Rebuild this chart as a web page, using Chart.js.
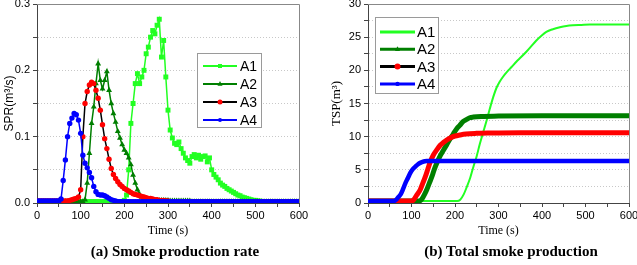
<!DOCTYPE html>
<html>
<head>
<meta charset="utf-8">
<script src="https://cdn.jsdelivr.net/npm/chart.js@4.4.1/dist/chart.umd.min.js"></script>
<style>
  body { margin: 0; width: 637px; height: 265px; overflow: hidden; background: #fff; position: relative; }
  canvas { position: absolute; top: -6px; }
  #spr { left: 0; }
  #tsp { left: 318px; }
  .cap { position: absolute; top: 243px; font: bold 15px "Liberation Serif", "Times New Roman", serif; white-space: nowrap; transform: translateX(-50%); }
</style>
</head>
<body>
<canvas id="spr" width="318" height="250"></canvas>
<canvas id="tsp" width="330" height="250"></canvas>
<div class="cap" style="left:175px">(a) Smoke production rate</div>
<div class="cap" style="left:511px">(b) Total smoke production</div>
<script>
// (a) smoke production rate, m3/s, sampled every 5 s
const sprTime = [
  0, 5, 10, 15, 20, 25, 30, 35, 40, 45,
  50, 55, 60, 65, 70, 75, 80, 85, 90, 95,
  100, 105, 110, 115, 120, 125, 130, 135, 140, 145,
  150, 155, 160, 165, 170, 175, 180, 185, 190, 195,
  200, 205, 210, 215, 220, 225, 230, 235, 240, 245,
  250, 255, 260, 265, 270, 275, 280, 285, 290, 295,
  300, 305, 310, 315, 320, 325, 330, 335, 340, 345,
  350, 355, 360, 365, 370, 375, 380, 385, 390, 395,
  400, 405, 410, 415, 420, 425, 430, 435, 440, 445,
  450, 455, 460, 465, 470, 475, 480, 485, 490, 495,
  500, 505, 510, 515, 520, 525, 530, 535, 540, 545,
  550, 555, 560, 565, 570, 575, 580, 585, 590, 595,
  600
];
const sprA1 = [
  0.002, 0.002, 0.002, 0.002, 0.002, 0.002, 0.002, 0.002, 0.002, 0.002,
  0.002, 0.002, 0.002, 0.002, 0.002, 0.002, 0.002, 0.002, 0.002, 0.002,
  0.002, 0.002, 0.002, 0.002, 0.002, 0.002, 0.002, 0.002, 0.002, 0.002,
  0.002, 0.002, 0.002, 0.002, 0.002, 0.002, 0.002, 0.002, 0.002, 0.002,
  0.004, 0.012, 0.05, 0.12, 0.15, 0.18, 0.195, 0.18, 0.19, 0.2,
  0.225, 0.235, 0.25, 0.26, 0.255, 0.268, 0.277, 0.22, 0.245, 0.19,
  0.14, 0.11, 0.098, 0.09, 0.088, 0.092, 0.082, 0.075, 0.068, 0.064,
  0.06, 0.07, 0.073, 0.068, 0.072, 0.066, 0.07, 0.071, 0.062, 0.068,
  0.05, 0.043, 0.039, 0.035, 0.03, 0.027, 0.025, 0.022, 0.02, 0.018,
  0.016, 0.014, 0.012, 0.011, 0.009, 0.008, 0.007, 0.006, 0.005, 0.004,
  0.004, 0.003, 0.003, 0.002, 0.002, 0.002, 0.002, 0.002, 0.002, 0.002,
  0.002, 0.002, 0.002, 0.002, 0.002, 0.002, 0.002, 0.002, 0.002, 0.002,
  0.002
];
const sprA2 = [
  0.002, 0.002, 0.002, 0.002, 0.002, 0.002, 0.002, 0.002, 0.002, 0.002,
  0.002, 0.002, 0.002, 0.002, 0.002, 0.002, 0.002, 0.002, 0.002, 0.002,
  0.002, 0.002, 0.005, 0.03, 0.075, 0.12, 0.145, 0.18, 0.21, 0.185,
  0.172, 0.185, 0.198, 0.17, 0.15, 0.135, 0.122, 0.108, 0.098, 0.088,
  0.08, 0.075, 0.068, 0.058, 0.042, 0.03, 0.02, 0.013, 0.009, 0.007,
  0.006, 0.005, 0.005, 0.004, 0.004, 0.004, 0.004, 0.004, 0.004, 0.004,
  0.004, 0.003, 0.003, 0.003, 0.003, 0.003, 0.003, 0.003, 0.003, 0.003,
  0.003, 0.002, 0.002, 0.002, 0.002, 0.002, 0.002, 0.002, 0.002, 0.002,
  0.002, 0.002, 0.002, 0.002, 0.002, 0.002, 0.002, 0.002, 0.002, 0.002,
  0.002, 0.002, 0.002, 0.002, 0.002, 0.002, 0.002, 0.002, 0.002, 0.002,
  0.002, 0.002, 0.002, 0.002, 0.002, 0.002, 0.002, 0.002, 0.002, 0.002,
  0.002, 0.002, 0.002, 0.002, 0.002, 0.002, 0.002, 0.002, 0.002, 0.002,
  0.002
];
const sprA3 = [
  0.003, 0.003, 0.003, 0.003, 0.003, 0.003, 0.003, 0.003, 0.003, 0.003,
  0.003, 0.003, 0.003, 0.003, 0.003, 0.004, 0.005, 0.006, 0.007, 0.009,
  0.02, 0.1, 0.15, 0.168, 0.178, 0.182, 0.18, 0.17, 0.158, 0.14,
  0.118, 0.097, 0.082, 0.066, 0.052, 0.043, 0.037, 0.032, 0.028, 0.025,
  0.022, 0.02, 0.018, 0.016, 0.014, 0.013, 0.012, 0.011, 0.01, 0.009,
  0.008, 0.007, 0.007, 0.006, 0.005, 0.005, 0.004, 0.004, 0.004, 0.003,
  0.003, 0.002, 0.002, 0.002, 0.002, 0.002, 0.002, 0.002, 0.002, 0.002,
  0.002, 0.002, 0.002, 0.002, 0.002, 0.002, 0.002, 0.002, 0.002, 0.002,
  0.002, 0.002, 0.002, 0.002, 0.002, 0.002, 0.002, 0.002, 0.002, 0.002,
  0.002, 0.002, 0.002, 0.002, 0.002, 0.002, 0.002, 0.002, 0.002, 0.002,
  0.002, 0.002, 0.002, 0.002, 0.002, 0.002, 0.002, 0.002, 0.002, 0.002,
  0.002, 0.002, 0.002, 0.002, 0.002, 0.002, 0.002, 0.002, 0.002, 0.002,
  0.002
];
const sprA4 = [
  0.003, 0.003, 0.003, 0.003, 0.003, 0.003, 0.003, 0.003, 0.003, 0.003,
  0.003, 0.006, 0.034, 0.065, 0.1, 0.12, 0.128, 0.135, 0.133, 0.125,
  0.105, 0.072, 0.06, 0.053, 0.046, 0.038, 0.025, 0.017, 0.013, 0.012,
  0.012, 0.011, 0.009, 0.007, 0.005, 0.004, 0.003, 0.002, 0.002, 0.002,
  0.002, 0.002, 0.002, 0.002, 0.002, 0.002, 0.002, 0.002, 0.002, 0.002,
  0.002, 0.002, 0.002, 0.002, 0.002, 0.002, 0.002, 0.002, 0.002, 0.002,
  0.002, 0.002, 0.002, 0.002, 0.002, 0.002, 0.002, 0.002, 0.002, 0.002,
  0.002, 0.002, 0.002, 0.002, 0.002, 0.002, 0.002, 0.002, 0.002, 0.002,
  0.002, 0.002, 0.002, 0.002, 0.002, 0.002, 0.002, 0.002, 0.002, 0.002,
  0.002, 0.002, 0.002, 0.002, 0.002, 0.002, 0.002, 0.002, 0.002, 0.002,
  0.002, 0.002, 0.002, 0.002, 0.002, 0.002, 0.002, 0.002, 0.002, 0.002,
  0.002, 0.002, 0.002, 0.002, 0.002, 0.002, 0.002, 0.002, 0.002, 0.002,
  0.002
];

// (b) total smoke production, m3
const tspA1Time = [0, 205, 212, 220, 227, 235, 242, 250, 257, 265, 273, 280, 288, 295, 302, 310, 320, 330, 341, 352, 364, 375, 387, 400, 410, 425, 441, 456, 471, 490, 510, 540, 600];
const tspA1 = [0.3, 0.3, 0.5, 1.3, 2.4, 3.8, 5.4, 7.1, 8.9, 10.7, 12.5, 14.2, 16, 17.3, 18.2, 19, 19.8, 20.5, 21.3, 22, 22.8, 23.6, 24.5, 25.3, 25.8, 26.2, 26.5, 26.7, 26.8, 26.85, 26.9, 26.9, 26.9];
const tspA2Time = [0, 118, 124, 130, 135, 141, 147, 152, 158, 165, 173, 181, 189, 196, 204, 211, 219, 227, 234, 242, 260, 300, 400, 600];
const tspA2 = [0.3, 0.3, 0.6, 1.3, 2, 3, 4, 5, 6, 7, 7.9, 8.8, 9.7, 10.4, 11.2, 11.7, 12.3, 12.6, 12.85, 12.95, 13.05, 13.1, 13.15, 13.15];
const tspA3Time = [0, 100, 105, 112, 120, 126, 132, 138, 143, 150, 158, 166, 174, 181, 190, 200, 211, 225, 249, 280, 350, 600];
const tspA3 = [0.3, 0.3, 0.5, 1.2, 2, 3, 4, 5.2, 6.2, 7.2, 8, 8.7, 9.15, 9.5, 9.85, 10.1, 10.25, 10.4, 10.5, 10.55, 10.6, 10.6];
const tspA4Time = [0, 60, 65, 70, 75, 80, 86, 92, 97, 103, 109, 115, 120, 128, 135, 150, 600];
const tspA4 = [0.3, 0.3, 0.5, 0.9, 1.3, 2, 3, 3.8, 4.5, 5.1, 5.5, 5.85, 6.05, 6.25, 6.32, 6.35, 6.35];

const seriesNames = ['A1', 'A2', 'A3', 'A4'];

const sansFont = "'Liberation Sans', Arial, sans-serif";
const serifFont = "'Liberation Serif', 'Times New Roman', serif";
const lime = '#22ff22';
const dkgreen = '#007f00';

const pts = (t, v) => t.map((x, i) => ({ x: x, y: v[i] }));

function marker(ctx, style, x, y, r) {
  ctx.beginPath();
  if (style === 'rect') {
    ctx.rect(x - r, y - r, 2 * r, 2 * r);
  } else if (style === 'triangle') {
    ctx.moveTo(x, y - r * 1.2);
    ctx.lineTo(x + r, y + r * 0.7);
    ctx.lineTo(x - r, y + r * 0.7);
    ctx.closePath();
  } else {
    ctx.arc(x, y, r, 0, Math.PI * 2);
  }
  ctx.fill();
}

// grey top/right frame around the plot
const frame = {
  id: 'frame',
  afterDatasetsDraw(chart) {
    const { ctx, chartArea: a } = chart;
    ctx.save();
    ctx.strokeStyle = '#888';
    ctx.lineWidth = 1;
    ctx.beginPath();
    ctx.moveTo(a.left, Math.round(a.top) + 0.5);
    ctx.lineTo(Math.round(a.right) + 0.5, Math.round(a.top) + 0.5);
    ctx.lineTo(Math.round(a.right) + 0.5, a.bottom);
    ctx.stroke();
    ctx.restore();
  }
};

// boxed legend inside the plot, like the original figure
function boxLegend(cfg) {
  return {
    id: 'boxLegend',
    afterDraw(chart) {
      const ctx = chart.ctx;
      ctx.save();
      ctx.fillStyle = '#fff';
      ctx.fillRect(cfg.x, cfg.y, cfg.w, cfg.h);
      ctx.strokeStyle = '#9a9a9a';
      ctx.lineWidth = 1;
      ctx.strokeRect(cfg.x + 0.5, cfg.y + 0.5, cfg.w, cfg.h);
      cfg.items.forEach((it, i) => {
        const y = cfg.y + cfg.first + i * cfg.step;
        ctx.strokeStyle = it.line;
        ctx.lineWidth = it.lw;
        ctx.beginPath();
        ctx.moveTo(cfg.x + cfg.lx0, y);
        ctx.lineTo(cfg.x + cfg.lx1, y);
        ctx.stroke();
        if (it.style) {
          ctx.fillStyle = it.point;
          marker(ctx, it.style, cfg.x + (cfg.lx0 + cfg.lx1) / 2, y, it.r);
        }
        ctx.fillStyle = '#000';
        ctx.font = cfg.font;
        ctx.textBaseline = 'middle';
        ctx.fillText(seriesNames[i], cfg.x + cfg.tx, y + 1);
      });
      ctx.restore();
    }
  };
}

function xAxis() {
  return {
    type: 'linear', min: 0, max: 600,
    afterFit: s => { s.height = 41; },
    ticks: {
      stepSize: 50, autoSkip: false, maxRotation: 0, padding: 2, color: '#000',
      font: { family: sansFont, size: 11 },
      callback: v => (v % 100 === 0 ? v : '')
    },
    grid: { drawOnChartArea: false, tickLength: 4, tickColor: '#444' },
    border: { color: '#444' },
    title: { display: true, text: 'Time (s)', color: '#000', font: { family: serifFont, size: 12 }, padding: { top: 0, bottom: 6 } }
  };
}

// A4 is drawn on top, A1 underneath (order: higher drawn first)
new Chart(document.getElementById('spr'), {
  type: 'line',
  data: {
    datasets: [
      { label: 'A1', order: 4, data: pts(sprTime, sprA1), borderColor: lime, borderWidth: 1.5, pointStyle: 'rect', pointRadius: 3.5, pointBackgroundColor: lime, pointBorderWidth: 0 },
      { label: 'A2', order: 3, data: pts(sprTime, sprA2), borderColor: dkgreen, borderWidth: 1.5, pointStyle: 'triangle', pointRadius: 3.4, pointBackgroundColor: dkgreen, pointBorderWidth: 0 },
      { label: 'A3', order: 2, data: pts(sprTime, sprA3), borderColor: '#000', borderWidth: 1.5, pointStyle: 'circle', pointRadius: 2.7, pointBackgroundColor: '#ff0000', pointBorderWidth: 0 },
      { label: 'A4', order: 1, data: pts(sprTime, sprA4), borderColor: '#0000ff', borderWidth: 1.5, pointStyle: 'circle', pointRadius: 2.7, pointBackgroundColor: '#0000ff', pointBorderWidth: 0 }
    ]
  },
  options: {
    responsive: false,
    animation: false,
    layout: { padding: { top: 10, right: 19, left: 0, bottom: 0 } },
    plugins: { legend: { display: false }, tooltip: { enabled: false } },
    scales: {
      x: xAxis(),
      y: {
        min: 0, max: 0.3,
        afterFit: s => { s.width = 37; },
        ticks: {
          stepSize: 0.05, autoSkip: false, padding: 3, color: '#000',
          font: { family: sansFont, size: 11 },
          callback: v => (Math.round(v * 100) % 10 === 0 ? v.toFixed(1) : '')
        },
        grid: { color: '#c8c8c8', tickLength: 4, tickColor: '#444' },
        border: { color: '#444', dash: [1, 2] },
        title: { display: true, text: 'SPR(m³/s)', color: '#000', font: { family: sansFont, size: 12 }, padding: { top: 2, bottom: 0 } }
      }
    }
  },
  plugins: [frame, boxLegend({
    x: 197, y: 59, w: 64, h: 74, first: 13, step: 18, lx0: 6, lx1: 40, tx: 43,
    font: '14px ' + sansFont,
    items: [
      { line: lime, lw: 2, style: 'rect', point: lime, r: 2 },
      { line: dkgreen, lw: 2, style: 'triangle', point: dkgreen, r: 2.5 },
      { line: '#000', lw: 2, style: 'circle', point: '#ff0000', r: 2.5 },
      { line: '#0000ff', lw: 2, style: 'circle', point: '#0000ff', r: 2 }
    ]
  })]
});

new Chart(document.getElementById('tsp'), {
  type: 'line',
  data: {
    datasets: [
      { label: 'A1', order: 4, data: pts(tspA1Time, tspA1), borderColor: lime, borderWidth: 2, pointRadius: 0, cubicInterpolationMode: 'monotone' },
      { label: 'A2', order: 3, data: pts(tspA2Time, tspA2), borderColor: dkgreen, borderWidth: 5, pointRadius: 0, cubicInterpolationMode: 'monotone' },
      { label: 'A3', order: 2, data: pts(tspA3Time, tspA3), borderColor: '#ff0000', borderWidth: 5, pointRadius: 0, cubicInterpolationMode: 'monotone' },
      { label: 'A4', order: 1, data: pts(tspA4Time, tspA4), borderColor: '#0000ff', borderWidth: 4.5, pointRadius: 0, cubicInterpolationMode: 'monotone' }
    ]
  },
  options: {
    responsive: false,
    animation: false,
    layout: { padding: { top: 10, right: 19, left: 0, bottom: 0 } },
    plugins: { legend: { display: false }, tooltip: { enabled: false } },
    scales: {
      x: xAxis(),
      y: {
        min: 0, max: 30,
        afterFit: s => { s.width = 50; },
        ticks: {
          stepSize: 2.5, autoSkip: false, padding: 3, color: '#000',
          font: { family: sansFont, size: 11 },
          callback: v => (v % 5 === 0 ? v : '')
        },
        grid: { color: '#c8c8c8', tickLength: 4, tickColor: '#444' },
        border: { color: '#444', dash: [1, 2] },
        title: { display: true, text: 'TSP(m³)', color: '#000', font: { family: serifFont, size: 13 }, padding: { top: 11, bottom: 0 } }
      }
    }
  },
  plugins: [frame, boxLegend({
    x: 57, y: 23, w: 63, h: 76, first: 15, step: 17.3, lx0: 5, lx1: 40, tx: 42,
    font: '15px ' + sansFont,
    items: [
      { line: lime, lw: 3, style: null },
      { line: dkgreen, lw: 3, style: 'triangle', point: dkgreen, r: 2.5 },
      { line: '#000', lw: 3, style: 'circle', point: '#ff0000', r: 3 },
      { line: '#0000ff', lw: 3, style: 'circle', point: '#0000ff', r: 2.2 }
    ]
  })]
});
</script>
</body>
</html>
